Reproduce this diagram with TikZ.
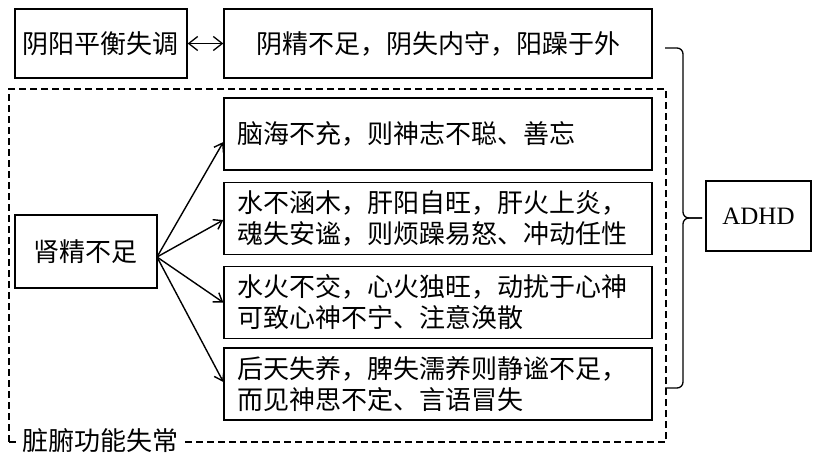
\documentclass[tikz,border=0pt]{standalone}
\usepackage{fontspec}
\newfontfamily\cjk{Noto Sans CJK SC}
\newfontfamily\serifen{Liberation Serif}
\usetikzlibrary{arrows.meta}
\begin{document}
\begin{tikzpicture}[x=1pt,y=-1pt,line width=1.3pt,
  box/.style={draw,rectangle,inner sep=0pt,font=\cjk\fontsize{26}{31}\selectfont},
  wide/.style={box,minimum width=428pt,minimum height=72pt,text width=402pt,align=left},
  frm/.style={draw,rectangle,inner sep=0pt,dash pattern=on 7pt off 4pt,line width=1.2pt},
  arr/.style={-{Straight Barb[length=8pt,width=11pt]},line width=1.4pt},
  dbl/.style={{Straight Barb[length=9pt,width=14pt]}-{Straight Barb[length=9pt,width=14pt]},line width=1.3pt}]
\useasboundingbox (0,0) rectangle (823,466);
\fill[white] (0,0) rectangle (823,466);
% dashed frame
\node[frm,minimum width=657pt,minimum height=353pt] (frame) at (337.5,265.5) {};
\node[fill=white,inner xsep=3pt,inner ysep=1pt,font=\cjk\fontsize{26}{31}\selectfont] (lbl) at (101,441) {脏腑功能失常};
% top row
\node[box,minimum width=172pt,minimum height=69pt] (yy) at (101,43.5) {阴阳平衡失调};
\node[box,minimum width=428pt,minimum height=69pt,align=center] (yj) at (438,43.5) {阴精不足，阴失内守，阳躁于外};
\draw[dbl] (yy.east) -- (yj.west);
% left box
\node[box,minimum width=142pt,minimum height=73pt] (sj) at (86,251.5) {肾精不足};
% right boxes
\node[wide] (a) at (438,134) {脑海不充，则神志不聪、善忘};
\node[wide] (b) at (438,218.5) {水不涵木，肝阳自旺，肝火上炎，\\魂失安谧，则烦躁易怒、冲动任性};
\node[wide] (c) at (438,302.5) {水火不交，心火独旺，动扰于心神\\可致心神不宁、注意涣散};
\node[wide] (d) at (438,384) {后天失养，脾失濡养则静谧不足，\\而见神思不定、言语冒失};
\coordinate (o) at (157,257);
\draw[arr] (o) -- ([yshift=-8pt]a.west);
\draw[arr] (o) -- ([yshift=-1.5pt]b.west);
\draw[arr] (o) -- (c.west);
\draw[arr] (o) -- ([yshift=2pt]d.west);
% ADHD
\node[draw,rectangle,minimum width=105pt,minimum height=70pt,font=\serifen\fontsize{25}{29}\selectfont] (adhd) at (758.5,216) {ADHD};
% brace
\coordinate (bt) at (665,48);
\coordinate (bb) at (665,388);
\coordinate (bm) at (702,218);
\draw[rounded corners=6pt] (bt) -- (683,48) -- (683,218) -- (bm);
\draw[rounded corners=6pt] (bb) -- (683,388) -- (683,218) -- (bm);
\end{tikzpicture}
\end{document}
